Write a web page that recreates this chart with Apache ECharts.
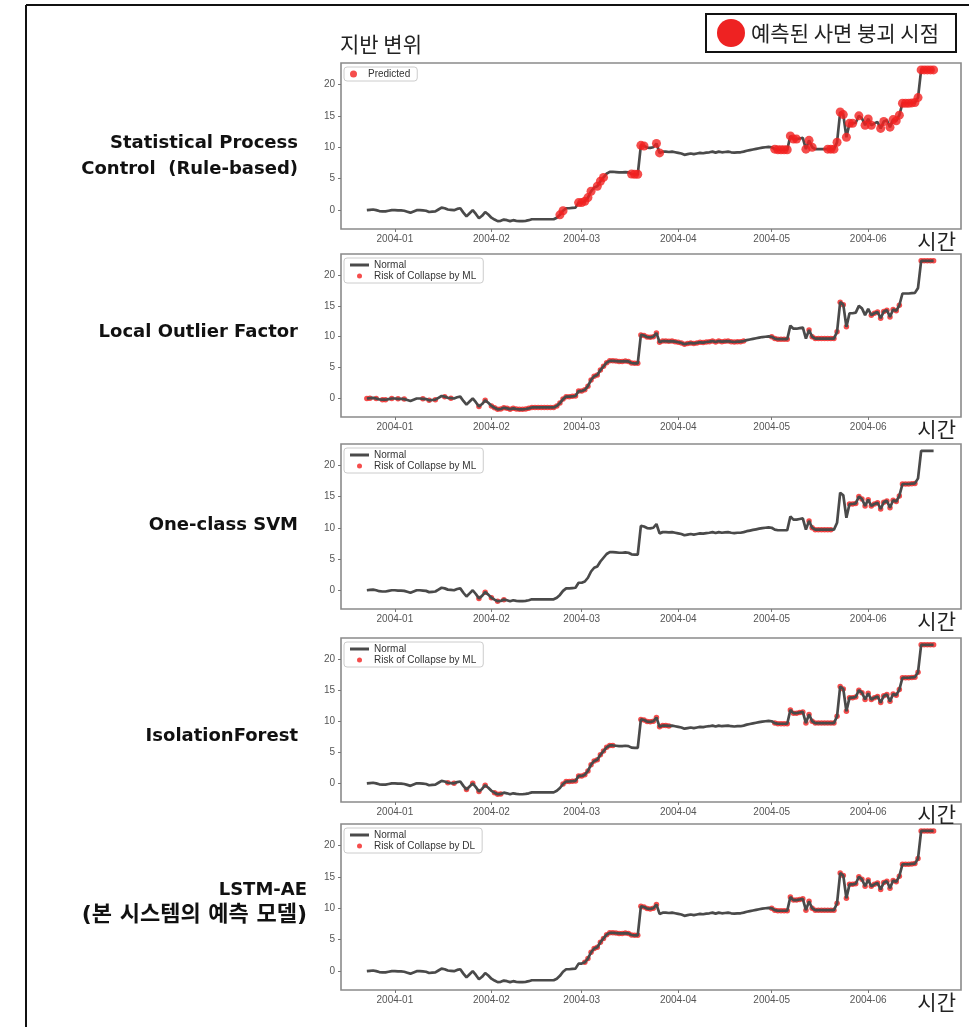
<!DOCTYPE html>
<html>
<head>
<meta charset="utf-8">
<script src="https://cdn.jsdelivr.net/npm/echarts@6/dist/echarts.min.js"></script>
<style>
  html, body { margin: 0; padding: 0; background: #ffffff; }
  #chart { width: 969px; height: 1027px; }
</style>
</head>
<body>
<div id="chart"></div>
<script>
// Daily ground displacement, 2003-12-23 .. 2004-06-22
const decValues = [0.0, 0.05, 0.1, 0.0, -0.15, -0.2, -0.2, -0.1, 0.0];
const janValues = [0.0, -0.05, -0.05, -0.1, -0.25, -0.4, -0.2, 0.0, 0.0, -0.05,
  -0.1, -0.3, -0.25, -0.2, 0.1, 0.4, 0.3, 0.1, 0.05, 0.0,
  0.2, 0.3, -0.4, -1.0, -0.5, 0.0, -0.6, -1.3, -0.9, -0.3, -0.7];
const febValues = [-1.2, -1.5, -1.75, -1.7, -1.5, -1.6, -1.75, -1.6, -1.7, -1.75,
  -1.75, -1.7, -1.6, -1.45, -1.45, -1.45, -1.45, -1.45, -1.45, -1.45,
  -1.45, -1.2, -0.75, -0.1, 0.3, 0.3, 0.35, 0.4, 1.2];
const marValues = [1.2, 1.4, 2.0, 3.0, 3.6, 3.8, 4.6, 5.2, 5.8, 6.1,
  6.1, 6.05, 6.0, 6.0, 6.05, 6.0, 5.75, 5.7, 5.7, 10.3,
  10.2, 9.95, 9.9, 10.0, 10.6, 9.1, 9.3, 9.3, 9.25, 9.3, 9.2];
const aprValues = [9.1, 9.0, 8.8, 8.9, 9.0, 8.9, 9.0, 9.1, 9.05, 9.15,
  9.2, 9.3, 9.15, 9.3, 9.2, 9.25, 9.3, 9.2, 9.15, 9.2,
  9.2, 9.3, 9.45, 9.55, 9.65, 9.75, 9.85, 9.95, 10.0, 10.05];
const mayValues = [10.0, 9.7, 9.6, 9.6, 9.6, 9.6, 11.8, 11.3, 11.3, 11.4,
  11.5, 9.7, 11.1, 10.0, 9.7, 9.7, 9.7, 9.7, 9.7, 9.7,
  9.7, 10.8, 15.6, 15.2, 11.6, 13.8, 13.8, 13.9, 15.0, 14.6, 13.5];
const junValues = [14.5, 13.5, 13.8, 14.0, 13.0, 14.1, 14.3, 13.2, 14.4, 14.2,
  15.1, 17.0, 17.0, 17.0, 17.05, 17.1, 17.9, 22.3, 22.3, 22.3, 22.3, 22.3];

const firstDay = '2003-12-23';
const displacement = [].concat(decValues, janValues, febValues, marValues, aprValues, mayValues, junValues);

// Flagged (predicted collapse) periods per model, inclusive date ranges
const spcFlags = [['2004-02-23', '2004-02-24'], ['2004-02-29', '2004-03-04'], ['2004-03-06', '2004-03-08'],
  ['2004-03-17', '2004-03-21'], ['2004-03-25', '2004-03-26'], ['2004-05-02', '2004-05-09'],
  ['2004-05-12', '2004-05-14'], ['2004-05-19', '2004-05-27'], ['2004-05-29', '2004-05-29'],
  ['2004-05-31', '2004-06-02'], ['2004-06-05', '2004-06-06'], ['2004-06-08', '2004-06-22']];
const lofFlags = [['2003-12-23', '2003-12-24'], ['2003-12-26', '2003-12-26'], ['2003-12-28', '2003-12-29'],
  ['2003-12-31', '2003-12-31'], ['2004-01-02', '2004-01-02'], ['2004-01-04', '2004-01-04'],
  ['2004-01-10', '2004-01-10'], ['2004-01-12', '2004-01-12'], ['2004-01-14', '2004-01-14'],
  ['2004-01-17', '2004-01-17'], ['2004-01-19', '2004-01-19'], ['2004-01-28', '2004-01-28'],
  ['2004-01-30', '2004-01-30'], ['2004-02-01', '2004-04-22'], ['2004-05-01', '2004-05-06'],
  ['2004-05-13', '2004-05-25'], ['2004-06-02', '2004-06-11'], ['2004-06-18', '2004-06-22']];
const svmFlags = [['2004-01-28', '2004-01-28'], ['2004-01-30', '2004-01-30'], ['2004-02-01', '2004-02-01'],
  ['2004-02-03', '2004-02-03'], ['2004-02-05', '2004-02-05'], ['2004-05-13', '2004-05-20'],
  ['2004-05-26', '2004-06-16']];
const iforestFlags = [['2004-01-18', '2004-01-18'], ['2004-01-20', '2004-01-20'], ['2004-01-24', '2004-01-24'],
  ['2004-01-26', '2004-01-26'], ['2004-01-28', '2004-01-28'], ['2004-01-30', '2004-01-30'],
  ['2004-02-02', '2004-02-04'], ['2004-02-24', '2004-03-11'], ['2004-03-20', '2004-03-29'],
  ['2004-05-02', '2004-06-22']];
const lstmFlags = [['2004-03-02', '2004-03-25'], ['2004-05-01', '2004-06-22']];

const monthTicks = ['2004-01-01', '2004-02-01', '2004-03-01', '2004-04-01', '2004-05-01', '2004-06-01'];
const valueTicks = [0, 5, 10, 15, 20];

const modelNames = [
  ['Statistical Process', 'Control  (Rule-based)'],
  ['Local Outlier Factor'],
  ['One-class SVM'],
  ['IsolationForest'],
  ['LSTM-AE', '(본 시스템의 예측 모델)']
];
const flagNames = ['Predicted', 'Risk of Collapse by ML', 'Risk of Collapse by ML', 'Risk of Collapse by ML', 'Risk of Collapse by DL'];
const flagSets = [spcFlags, lofFlags, svmFlags, iforestFlags, lstmFlags];

// ---- helpers ----
function parseDay(s) {
  const p = s.split('-').map(Number);
  return new Date(p[0], p[1] - 1, p[2]).getTime();
}
const start = parseDay(firstDay);
const DAY = 86400000;
const times = displacement.map((_, i) => start + i * DAY);
const linePoints = displacement.map((v, i) => [times[i], v]);

function flaggedPoints(ranges) {
  const out = [];
  times.forEach((t, i) => {
    if (ranges.some(r => t >= parseDay(r[0]) && t <= parseDay(r[1]))) out.push([t, displacement[i]]);
  });
  return out;
}
function monthLabel(v) {
  const d = new Date(v);
  return d.getFullYear() + '-' + String(d.getMonth() + 1).padStart(2, '0');
}

// ---- layout ----
const plotLeft = 341, plotWidth = 620;
const panelTops = [63, 254, 444, 638, 824];
const panelHeights = [166, 163, 165, 164, 166];
const labelRows = [[143, 169], [332], [525], [736], [890, 915]];
const jan1 = parseDay('2004-01-01');
const axisMin = jan1 - 17.3 * DAY;
const axisMax = jan1 + 181.8 * DAY;
const red = '#f2201f';
const lineColor = '#4a4a4a';
const tickFont = 'Liberation Sans';
const monthStamps = monthTicks.map(parseDay);
const lineIcon = 'path://M0,0 L19,0 L19,3 L0,3 Z';

const grids = [], xAxes = [], yAxes = [], series = [], legends = [], graphics = [];

panelTops.forEach((top, k) => {
  grids.push({
    left: plotLeft, top: top, width: plotWidth, height: panelHeights[k],
    show: true, borderColor: '#8a8a8a', borderWidth: 1.6, backgroundColor: '#fff'
  });
  xAxes.push({
    type: 'value', gridIndex: k, min: axisMin, max: axisMax, scale: true, position: 'bottom',
    axisLine: { show: false, onZero: false },
    splitLine: { show: false },
    axisTick: { show: true, length: 3, lineStyle: { color: '#777' }, customValues: monthStamps },
    axisLabel: {
      show: true, fontSize: 10, color: '#555', fontFamily: tickFont, margin: 5,
      customValues: monthStamps, formatter: monthLabel
    }
  });
  yAxes.push({
    type: 'value', gridIndex: k, min: -3.0, max: 23.4, position: 'left',
    axisLine: { show: false, onZero: false },
    splitLine: { show: false },
    axisTick: { show: true, length: 3, lineStyle: { color: '#777' }, customValues: valueTicks },
    axisLabel: { show: true, fontSize: 10, color: '#555', fontFamily: tickFont, margin: 6, customValues: valueTicks }
  });

  const dotsOnTop = k === 0;
  series.push({
    type: 'line', name: k === 0 ? '지반 변위' : 'Normal', xAxisIndex: k, yAxisIndex: k,
    data: linePoints, showSymbol: false, symbol: 'none', silent: true,
    color: lineColor, itemStyle: { color: lineColor },
    lineStyle: { color: lineColor, width: 2.7 }, z: 3
  });
  series.push({
    type: 'scatter', name: flagNames[k], xAxisIndex: k, yAxisIndex: k,
    data: flaggedPoints(flagSets[k]), symbol: 'circle', symbolSize: dotsOnTop ? 9 : 5.5,
    itemStyle: { color: red }, silent: true, z: dotsOnTop ? 4 : 2
  });

  legends.push({
    data: k === 0
      ? [{ name: flagNames[0], icon: 'circle' }]
      : [{ name: 'Normal', icon: lineIcon, itemStyle: { color: lineColor } }, { name: flagNames[k], icon: 'circle' }],
    orient: 'vertical', left: plotLeft + 3, top: top + 4,
    itemWidth: 19, itemHeight: k === 0 ? 7 : 5, itemGap: 1, padding: [2, 7, 2, 6],
    borderColor: '#cccccc', borderWidth: 1, borderRadius: 3, backgroundColor: '#fff',
    textStyle: { fontSize: 10, color: '#333', fontFamily: tickFont },
    selectedMode: false
  });

  // model name, right-aligned next to each panel
  const names = modelNames[k];
  const rightX = k === 4 ? 307 : 298;
  names.forEach((txt, j) => {
    const korean = /[가-힣]/.test(txt);
    graphics.push({
      type: 'text', x: rightX, y: labelRows[k][j],
      style: { text: txt, fill: '#111', align: 'right', verticalAlign: 'middle',
        font: korean ? 'bold 22px "DejaVu Sans", "Noto Sans CJK KR", sans-serif'
                     : 'bold 18px "DejaVu Sans", sans-serif' }
    });
  });

  // time axis title
  graphics.push({
    type: 'text', x: 956, y: top + panelHeights[k] + 12,
    style: { text: '시간', fill: '#222', align: 'right', verticalAlign: 'middle',
      font: '21px "Noto Sans CJK KR", sans-serif' }
  });
});

// value axis title
graphics.push({
  type: 'text', x: 340, y: 44,
  style: { text: '지반 변위', fill: '#222', align: 'left', verticalAlign: 'middle',
    font: '21px "Noto Sans CJK KR", sans-serif' }
});

// outer frame (left and top edges)
graphics.push({ type: 'line', shape: { x1: 26, y1: 5, x2: 26, y2: 1027 }, style: { stroke: '#111', lineWidth: 2 } });
graphics.push({ type: 'line', shape: { x1: 26, y1: 5, x2: 969, y2: 5 }, style: { stroke: '#111', lineWidth: 2 } });

// key for the collapse markers
graphics.push({ type: 'rect', shape: { x: 706, y: 14, width: 250, height: 38 }, style: { fill: '#fff', stroke: '#111', lineWidth: 2 } });
graphics.push({ type: 'circle', shape: { cx: 731, cy: 33, r: 14 }, style: { fill: '#ee2222' } });
graphics.push({
  type: 'text', x: 751, y: 33,
  style: { text: '예측된 사면 붕괴 시점', fill: '#222', align: 'left', verticalAlign: 'middle',
    font: '21px "Noto Sans CJK KR", sans-serif' }
});

const chart = echarts.init(document.getElementById('chart'), null, { renderer: 'canvas' });
chart.setOption({
  animation: false,
  backgroundColor: '#ffffff',
  grid: grids,
  xAxis: xAxes,
  yAxis: yAxes,
  legend: legends,
  series: series,
  graphic: graphics
});
</script>
</body>
</html>
